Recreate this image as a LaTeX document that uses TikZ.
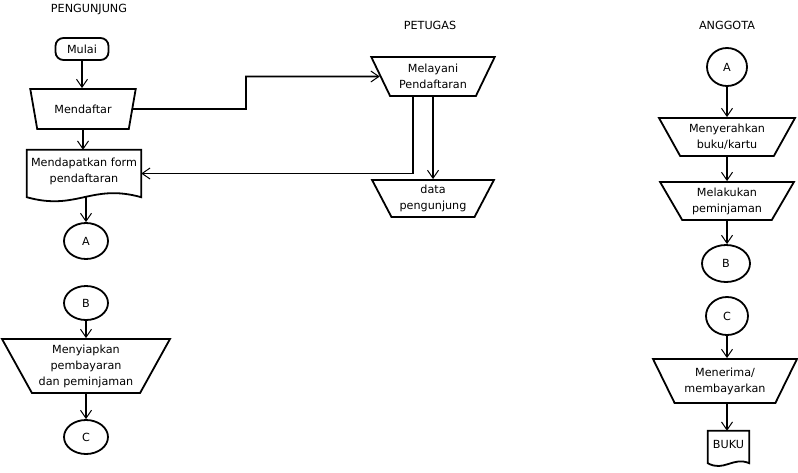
\documentclass[tikz,border=0pt]{standalone}
\usepackage{fontspec}
\setmainfont{DejaVu Sans}
\usetikzlibrary{shapes.geometric,arrows.meta,calc}
\begin{document}
\begin{tikzpicture}[x=1pt,y=-1pt,
  font=\fontsize{11.2}{16}\selectfont,
  box/.style={draw, line width=1.8pt},
  man/.style={box, trapezium, shape border rotate=180, trapezium stretches=true,
    inner sep=0pt, align=center, trapezium left angle=#1, trapezium right angle=#1},
  conn/.style={box, ellipse, inner sep=0pt, minimum width=44pt, minimum height=36pt},
  term/.style={box, rectangle, rounded corners=8pt, inner sep=0pt, minimum width=53pt, minimum height=22pt},
  docnode/.style={rectangle, inner sep=0pt, align=center},
  arr/.style={line width=1.8pt, -{Straight Barb[length=8pt,width=11pt,line width=1pt]}},
]
\useasboundingbox (0,0) rectangle (798,472);

% lane labels
\node (lblP) at (89,9) {PENGUNJUNG};
\node (lblT) at (430,25) {PETUGAS};
\node (lblA) at (727,25) {ANGGOTA};

% PENGUNJUNG column
\node[term] (mulai) at (82,49) {Mulai};
\node[man=63.4, minimum width=106pt, minimum height=40pt] (mendaftar) at (83,109) {Mendaftar};
\node[docnode, minimum width=114pt, minimum height=47pt] (docA) at (84,173.5) {};
\node (docAtext) at ($(docA.center)+(0,-2)$) [align=center, inner sep=0pt] {Mendapatkan form\\pendaftaran};
\draw[box] (docA.south west) -- (docA.north west) -- (docA.north east) -- (docA.south east)
  .. controls ($(docA.south east)+(-50,-14)$) and ($(docA.south west)+(50,14)$) .. (docA.south west) -- cycle;
\node[conn] (cA) at (86,241) {A};

\node[conn, minimum height=34pt] (cB) at (86,303) {B};
\node[man=58.6, minimum width=168pt, minimum height=54pt] (siap) at (86,366) {Menyiapkan\\pembayaran\\dan peminjaman};
\node[conn, minimum height=34pt] (cC) at (86,437) {C};

% PETUGAS column
\node[man=58.9, minimum width=124pt, minimum height=39pt] (melayani) at (433,76.5) {Melayani\\Pendaftaran};
\node[man=59.8, minimum width=123pt, minimum height=37pt] (data) at (433,198.5) {data\\pengunjung};

% ANGGOTA column
\node[conn, minimum width=40pt, minimum height=38pt] (rA) at (727,67) {A};
\node[man=56.1, minimum width=136pt, minimum height=38pt] (serah) at (727,137) {Menyerahkan\\buku/kartu};
\node[man=57.2, minimum width=134pt, minimum height=38pt] (laku) at (727,201) {Melakukan\\peminjaman};
\node[conn, minimum width=48pt, minimum height=37pt] (rB) at (726,263.5) {B};
\node[conn, minimum width=42pt, minimum height=38pt] (rC) at (727,316) {C};
\node[man=57.1, minimum width=144pt, minimum height=44pt] (terima) at (725,381) {Menerima/\\membayarkan};
\node[docnode, minimum width=41pt, minimum height=32pt] (buku) at (728.5,447) {};
\node (bukutext) at ($(buku.center)+(0,-3)$) [inner sep=0pt] {BUKU};
\draw[box] (buku.south west) -- (buku.north west) -- (buku.north east) -- (buku.south east)
  .. controls ($(buku.south east)+(-16,-7)$) and ($(buku.south west)+(16,9)$) .. (buku.south west) -- cycle;

% connectors
\draw[arr] (mulai.south) -- (mulai.south |- mendaftar.north);
\draw[arr] (mendaftar.south) -- (mendaftar.south |- docA.north);
\coordinate (j1) at (246,109);
\draw[arr] (mendaftar.east) -- (j1) |- (melayani.west);
\coordinate (j2) at ($(melayani.south)+(-20,0)$);
\draw[arr] (j2) |- (docA.east);
\draw[arr] (melayani.south) -- (melayani.south |- data.north);
\draw[arr] (cA.north |- docA.south) -- (cA.north);
\draw[arr] (cB.south) -- (cB.south |- siap.north);
\draw[arr] (siap.south) -- (siap.south |- cC.north);

\draw[arr] (rA.south) -- (rA.south |- serah.north);
\draw[arr] (serah.south) -- (serah.south |- laku.north);
\draw[arr] (laku.south) -- (laku.south |- rB.north);
\draw[arr] (rC.south) -- (rC.south |- terima.north);
\draw[arr] (rC.south |- terima.south) -- (rC.south |- buku.north);
\end{tikzpicture}
\end{document}
